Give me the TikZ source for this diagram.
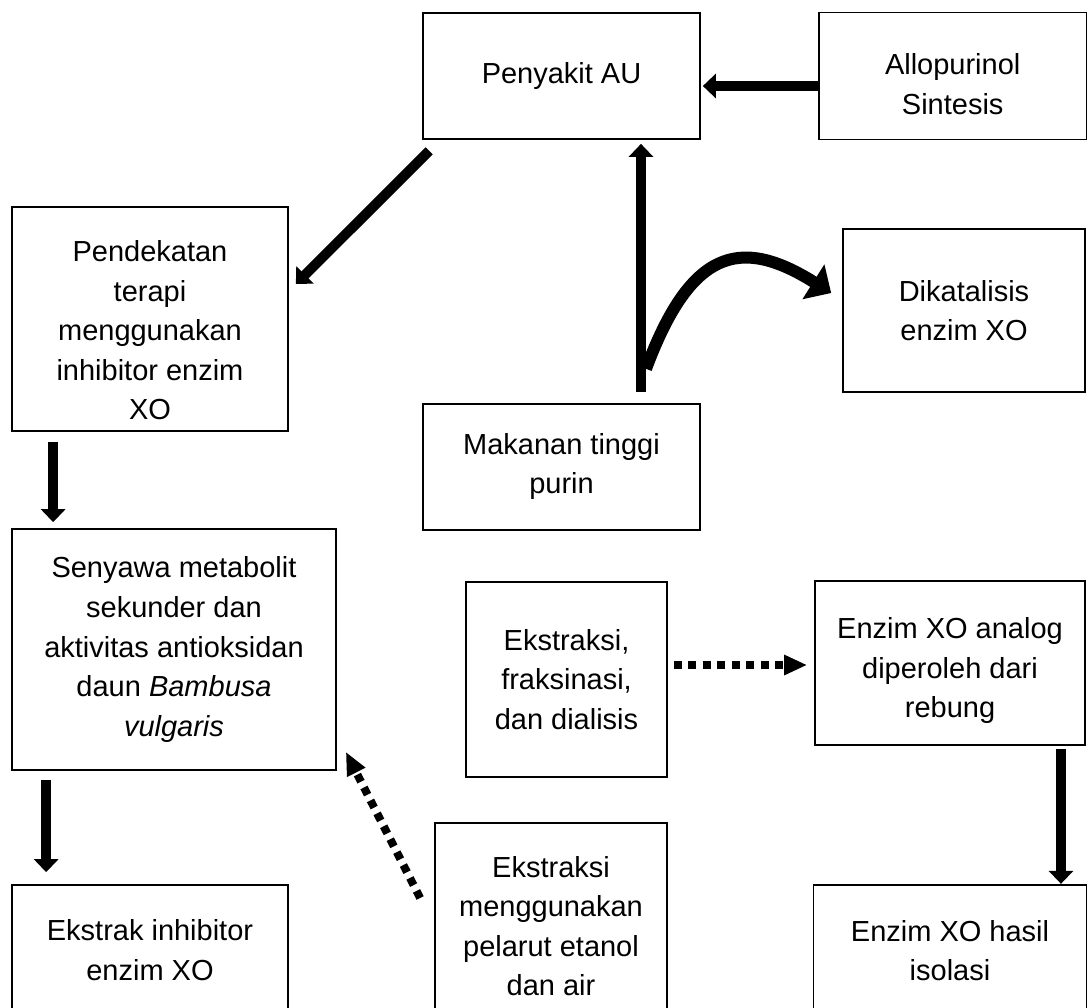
\documentclass[tikz,border=0pt]{standalone}
\usepackage{fontspec}
\setmainfont{Liberation Sans}
\usetikzlibrary{arrows.meta, positioning}
% invisible strut that pushes a box text down a little
\newcommand{\textdrop}[1]{\rule{0pt}{#1}}
\tikzset{
    % Box style
    box/.style={
        rectangle,
        draw=black,
        line width=1pt,
        align=center,
        font=\fontsize{16.5}{22.5}\selectfont
    },
    % Solid arrow style
    arrow/.style={
        -{Triangle[length=0.26cm, width=0.48cm]},
        line width=0.2cm,
        color=black
    },
    % Curved arrow style
    curvearrow/.style={
        -{Triangle[length=0.42cm, width=0.8cm]},
        line width=0.24cm,
        color=black
    },
    % Dotted arrow style
    dotarrow/.style={
        -{Triangle[length=0.46cm, width=0.38cm]},
        line width=0.16cm,
        dash pattern=on 0.16cm off 0.13cm,
        color=black
    }
}
\begin{document}
\begin{tikzpicture}[x=0.02cm, y=-0.02cm]
        \useasboundingbox (0,0) rectangle (1087,1007);

        % Top row
        \node (au) [box, minimum width=5.54cm, minimum height=2.52cm] at (561.5,76) {Penyakit AU};
        \node (allo) [box, right=2.34cm of au, minimum width=5.36cm, minimum height=2.54cm] {\textdrop{21pt}Allopurinol\\Sintesis};
        \node (makanan) [box, below=5.26cm of au, minimum width=5.54cm, minimum height=2.52cm] {Makanan tinggi\\purin};
        \node (katalis) [box, minimum width=4.84cm, minimum height=3.26cm] at (964,310.5) {Dikatalisis\\enzim XO};

        % Left column
        \node (terapi) [box, minimum width=5.52cm, minimum height=4.48cm] at (150,319) {\textdrop{25pt}Pendekatan\\terapi\\menggunakan\\inhibitor enzim\\XO};
        \node (senyawa) [box, minimum width=6.48cm, minimum height=4.82cm] at (174,649.5) {Senyawa metabolit\\sekunder dan\\aktivitas antioksidan\\daun \textit{Bambusa}\\\textit{vulgaris}};
        \node (ekstrak) [box, minimum width=5.52cm, minimum height=2.6cm] at (150,950) {Ekstrak inhibitor\\enzim XO};

        % Middle and right
        \node (fraksi) [box, minimum width=4.02cm, minimum height=3.9cm] at (566.5,679.5) {Ekstraksi,\\fraksinasi,\\dan dialisis};
        \node (analog) [box, minimum width=5.4cm, minimum height=3.28cm] at (950,663) {\textdrop{21pt}Enzim XO analog\\diperoleh dari\\rebung};
        \node (hasil) [box, below=2.76cm of analog, minimum width=5.46cm, minimum height=2.64cm] {Enzim XO hasil\\isolasi};
        \node (pelarut) [box, minimum width=4.64cm, minimum height=4.12cm] at (551,926) {Ekstraksi\\menggunakan\\pelarut etanol\\dan air};

        % Arrows
        \draw[arrow, shorten >=0.04cm] ([yshift=-0.2cm]allo.west) -- ([yshift=-0.2cm]au.east);
        \draw[arrow] ([xshift=0.14cm, yshift=-0.22cm]au.south west) -- ([xshift=0.14cm, yshift=0.7cm]terapi.east);
        \draw[arrow, shorten <=0.22cm, shorten >=0.08cm] ([xshift=1.59cm]makanan.north) -- ([xshift=1.59cm]au.south);
        \coordinate (fork) at ([xshift=1.69cm, yshift=0.68cm]makanan.north);
        \draw[curvearrow] (fork) .. controls +(44,-118) and +(-92,-58) .. ([xshift=-0.22cm, yshift=0.35cm]katalis.west);
        \draw[arrow, shorten <=0.2cm, shorten >=0.12cm] ([xshift=0.84cm]terapi.south west) -- ([xshift=0.84cm]terapi.south west |- senyawa.north);
        \draw[arrow, shorten <=0.18cm, shorten >=0.24cm] ([xshift=0.7cm]senyawa.south west) -- ([xshift=0.7cm]senyawa.south west |- ekstrak.north);
        \draw[arrow, shorten <=0.06cm] ([xshift=2.22cm]analog.south) -- ([xshift=2.22cm]hasil.north);
        \draw[dotarrow, shorten <=0.12cm, shorten >=0.14cm] ([yshift=0.29cm]fraksi.east) -- ([yshift=0.29cm]fraksi.east -| analog.west);
        \draw[dotarrow] ([xshift=-0.28cm, yshift=0.56cm]pelarut.west) -- ([xshift=0.18cm, yshift=0.38cm]senyawa.south east);
    \end{tikzpicture}
\end{document}
